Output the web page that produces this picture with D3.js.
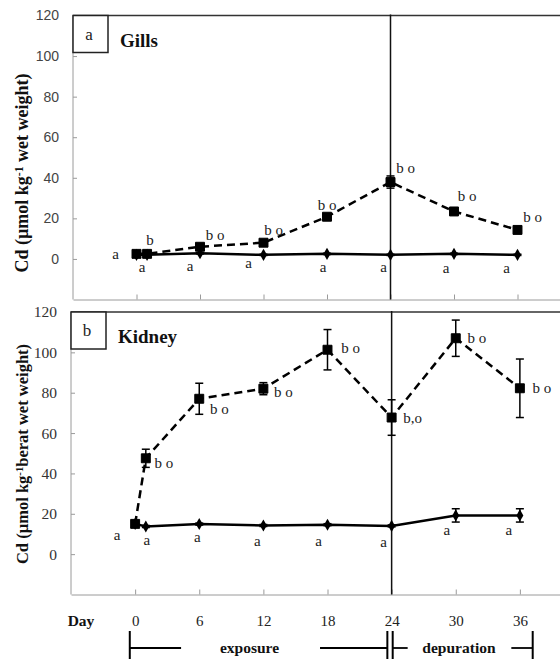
<!DOCTYPE html>
<html>
<head>
<meta charset="utf-8">
<script src="https://cdn.jsdelivr.net/npm/d3@7"></script>
<style>
  body { margin: 0; background: #fff; }
  svg { display: block; }
  .serif { font-family: "Liberation Serif", "Times New Roman", serif; }
</style>
</head>
<body>
<div id="chart"></div>
<script>
// sampling days and tick labels
const days = [0, 1, 6, 12, 18, 24, 30, 36];
const dayTicks = [0, 6, 12, 18, 24, 30, 36];
const yTicks = [0, 20, 40, 60, 80, 100, 120];

// gills (panel a)
const gillsTreated = [2.5, 2.5, 6, 8, 20.8, 37.9, 23.4, 14.3];
const gillsTreatedErr = [0.5, 0.5, 1, 1, 1, 3, 1.5, 1];
const gillsControl = [2, 2, 2.8, 2, 2.5, 2, 2.5, 2];
const gillsControlErr = [0.3, 0.3, 0.3, 0.3, 0.3, 0.3, 0.3, 0.3];
const gillsTreatedSig = ["a", "b", "b o", "b o", "b o", "b o", "b o", "b o"];
const gillsControlSig = ["", "a", "a", "a", "a", "a", "a", "a"];

// kidney (panel b)
const kidneyTreated = [15, 47.5, 77, 82, 101.3, 67.7, 107, 82.2];
const kidneyTreatedErr = [1, 4.5, 7.7, 3, 10, 8.8, 9, 14.5];
const kidneyControl = [15, 13.7, 14.9, 14.2, 14.6, 14, 19.2, 19.2];
const kidneyControlErr = [0.5, 0.5, 0.5, 0.5, 0.5, 0.5, 3.3, 3.3];
const kidneyTreatedSig = ["a", "b o", "b o", "b o", "b o", "b,o", "b o", "b o"];
const kidneyControlSig = ["", "a", "a", "a", "a", "a", "a", "a"];

const width = 560, height = 659;
const serifFont = "'Liberation Serif', 'Times New Roman', serif";
const sansFont = "'Liberation Sans', Arial, sans-serif";

const svg = d3.select("#chart")
  .append("svg")
    .attr("width", width)
    .attr("height", height);

// label offsets (px) from each point, per panel
const layout = {
  gills: {
    treat: [[-21, 0], [3, -14], [15, -12], [10, -13], [0, -12], [15, -14], [13, -15], [15, -13]],
    ctrl: [[0, 0], [-5, 12], [-10, 13], [-15, 8], [-4, 13], [-7, 12], [-8, 14], [-11, 13]]
  },
  kidney: {
    treat: [[-18, 11], [18, 5], [20, 10], [20, 4], [23, -2], [21, 1], [21, 0], [22, 0]],
    ctrl: [[0, 0], [1, 14], [-2, 13], [-6, 16], [-9, 17], [-8, 16], [-9, 15], [-11, 15]]
  }
};

function drawPanel(opt) {
  const x = d3.scaleLinear().domain([-6, 42]).range(opt.xRange);
  const y = d3.scaleLinear().domain([-20, 120]).range(opt.yRange);
  const g = svg.append("g");
  const left = opt.xRange[0], top = opt.yRange[1], bottom = opt.yRange[0];

  // y axis
  const yAxis = g.append("g")
    .attr("transform", "translate(" + left + ",0)")
    .call(d3.axisLeft(y).tickValues(yTicks).tickSizeInner(-4).tickSizeOuter(0).tickPadding(14));
  yAxis.attr("font-family", null).attr("font-size", null);
  yAxis.select(".domain").attr("stroke", "#9a9a9a").attr("d", "M0," + bottom + "V" + top);
  yAxis.selectAll(".tick line").attr("stroke", "#9a9a9a");
  yAxis.selectAll(".tick text")
    .attr("fill", opt.tickColor)
    .attr("font-family", opt.tickFont)
    .attr("font-size", opt.tickSize);

  // x axis
  const xAxis = g.append("g")
    .attr("transform", "translate(0," + bottom + ")")
    .call(d3.axisBottom(x).tickValues(dayTicks).tickSizeInner(-5).tickSizeOuter(0)
      .tickPadding(21).tickFormat(opt.showDays ? d3.format("d") : ""));
  xAxis.attr("font-family", null).attr("font-size", null);
  xAxis.select(".domain").attr("stroke", "#9a9a9a");
  xAxis.selectAll(".tick line").attr("stroke", "#9a9a9a");
  xAxis.selectAll(".tick text")
    .attr("fill", "#222")
    .attr("font-family", serifFont)
    .attr("font-size", 15);

  // top border
  g.append("line")
    .attr("x1", left).attr("x2", width)
    .attr("y1", top).attr("y2", top)
    .attr("stroke", "#333").attr("stroke-width", 1.3);

  // exposure / depuration divider
  g.append("line")
    .attr("x1", x(24)).attr("x2", x(24))
    .attr("y1", top - 1).attr("y2", bottom)
    .attr("stroke", "#111").attr("stroke-width", 1.5);

  // panel letter box and title
  g.append("rect")
    .attr("x", left).attr("y", top)
    .attr("width", 35).attr("height", 37)
    .attr("fill", "#fff").attr("stroke", "#222").attr("stroke-width", 1.5);
  g.append("text")
    .attr("x", left + 16).attr("y", top + 24)
    .attr("text-anchor", "middle")
    .attr("font-family", serifFont).attr("font-size", 17).attr("fill", "#222")
    .text(opt.letter);
  g.append("text")
    .attr("x", opt.titleX).attr("y", top + 31)
    .attr("font-family", serifFont).attr("font-size", 19).attr("font-weight", "bold").attr("fill", "#111")
    .text(opt.title);

  // y title
  const yt = g.append("text")
    .attr("transform", "translate(28," + opt.yTitleY + ") rotate(-90)")
    .attr("text-anchor", "middle")
    .attr("font-family", serifFont).attr("font-size", opt.yTitleSize)
    .attr("font-weight", "bold").attr("fill", "#111");
  yt.append("tspan").text("Cd (\u00b5mol kg");
  yt.append("tspan").attr("dy", "-0.45em").attr("font-size", opt.yTitleSize * 0.65).text("-1");
  yt.append("tspan").attr("dy", "0.3em").text(opt.yTitleRest);

  const treat = days.map((d, i) => ({day: d, v: opt.treat[i], e: opt.treatErr[i], s: opt.treatSig[i], o: opt.layout.treat[i]}));
  const ctrl = days.map((d, i) => ({day: d, v: opt.ctrl[i], e: opt.ctrlErr[i], s: opt.ctrlSig[i], o: opt.layout.ctrl[i]}));

  const line = d3.line().x(d => x(d.day)).y(d => y(d.v));

  g.append("path").datum(ctrl)
    .attr("d", line).attr("fill", "none")
    .attr("stroke", "#000").attr("stroke-width", 2.5);
  g.append("path").datum(treat)
    .attr("d", line).attr("fill", "none")
    .attr("stroke", "#000").attr("stroke-width", 2.5)
    .attr("stroke-dasharray", "8,5");

  // error bars
  [ctrl, treat].forEach(series => {
    const eb = g.append("g").selectAll("g").data(series).enter().append("g")
      .attr("stroke", "#000").attr("stroke-width", 1.5);
    eb.append("line")
      .attr("x1", d => x(d.day)).attr("x2", d => x(d.day))
      .attr("y1", d => y(d.v + d.e)).attr("y2", d => y(d.v - d.e));
    eb.append("line")
      .attr("x1", d => x(d.day) - 4).attr("x2", d => x(d.day) + 4)
      .attr("y1", d => y(d.v + d.e)).attr("y2", d => y(d.v + d.e));
    eb.append("line")
      .attr("x1", d => x(d.day) - 4).attr("x2", d => x(d.day) + 4)
      .attr("y1", d => y(d.v - d.e)).attr("y2", d => y(d.v - d.e));
  });

  // markers
  g.selectAll(".ctrl-pt").data(ctrl).enter().append("path")
    .attr("transform", d => "translate(" + x(d.day) + "," + y(d.v) + ")")
    .attr("d", d3.symbol().type(d3.symbolDiamond).size(42))
    .attr("fill", "#000");
  g.selectAll(".treat-pt").data(treat).enter().append("path")
    .attr("transform", d => "translate(" + x(d.day) + "," + y(d.v) + ")")
    .attr("d", d3.symbol().type(d3.symbolSquare).size(opt.squareSize))
    .attr("fill", "#000").attr("stroke", "#000").attr("stroke-width", 1).attr("stroke-linejoin", "round");

  // significance letters
  [treat, ctrl].forEach(series => {
    g.append("g").selectAll("text").data(series.filter(d => d.s)).enter().append("text")
      .attr("x", d => x(d.day) + d.o[0])
      .attr("y", d => y(d.v) + d.o[1])
      .attr("dy", "0.32em")
      .attr("text-anchor", "middle")
      .attr("font-family", serifFont).attr("font-size", 15).attr("fill", "#222")
      .text(d => d.s);
  });

  return x;
}

drawPanel({
  xRange: [73, 581], yRange: [299.5, 15.5],
  letter: "a", title: "Gills", titleX: 120,
  tickFont: sansFont, tickColor: "#444", tickSize: 14,
  yTitleY: 173, yTitleSize: 18, yTitleRest: " wet weight)",
  showDays: false, squareSize: 80,
  treat: gillsTreated, treatErr: gillsTreatedErr, treatSig: gillsTreatedSig,
  ctrl: gillsControl, ctrlErr: gillsControlErr, ctrlSig: gillsControlSig,
  layout: layout.gills
});

const xb = drawPanel({
  xRange: [71, 584], yRange: [594.5, 312],
  letter: "b", title: "Kidney", titleX: 118,
  tickFont: serifFont, tickColor: "#333", tickSize: 15.5,
  yTitleY: 454, yTitleSize: 16.5, yTitleRest: "berat wet weight)",
  showDays: true, squareSize: 80,
  treat: kidneyTreated, treatErr: kidneyTreatedErr, treatSig: kidneyTreatedSig,
  ctrl: kidneyControl, ctrlErr: kidneyControlErr, ctrlSig: kidneyControlSig,
  layout: layout.kidney
});

// "Day" label and exposure / depuration brackets
svg.append("text")
  .attr("x", 81).attr("y", 621).attr("dy", "0.32em")
  .attr("text-anchor", "middle")
  .attr("font-family", serifFont).attr("font-size", 15.5).attr("font-weight", "bold").attr("fill", "#111")
  .text("Day");

const brY = 648;
const br = svg.append("g").attr("stroke", "#000");
const bars = [xb(-0.5), xb(23.6), xb(24.1), xb(37.2)];
bars.forEach(px => {
  br.append("line").attr("x1", px).attr("x2", px)
    .attr("y1", 631).attr("y2", 662).attr("stroke-width", 2);
});
[[bars[0], xb(4.3)], [xb(17.3), bars[1]], [bars[2], xb(25.5)], [xb(35.2), bars[3]]].forEach(s => {
  br.append("line").attr("x1", s[0]).attr("x2", s[1])
    .attr("y1", brY).attr("y2", brY).attr("stroke-width", 1.8);
});

svg.append("text")
  .attr("x", xb(10.7)).attr("y", brY).attr("dy", "0.32em")
  .attr("text-anchor", "middle")
  .attr("font-family", serifFont).attr("font-size", 15.5).attr("font-weight", "bold").attr("fill", "#111")
  .text("exposure");
svg.append("text")
  .attr("x", xb(30.3)).attr("y", brY).attr("dy", "0.32em")
  .attr("text-anchor", "middle")
  .attr("font-family", serifFont).attr("font-size", 15.5).attr("font-weight", "bold").attr("fill", "#111")
  .text("depuration");
</script>
</body>
</html>
